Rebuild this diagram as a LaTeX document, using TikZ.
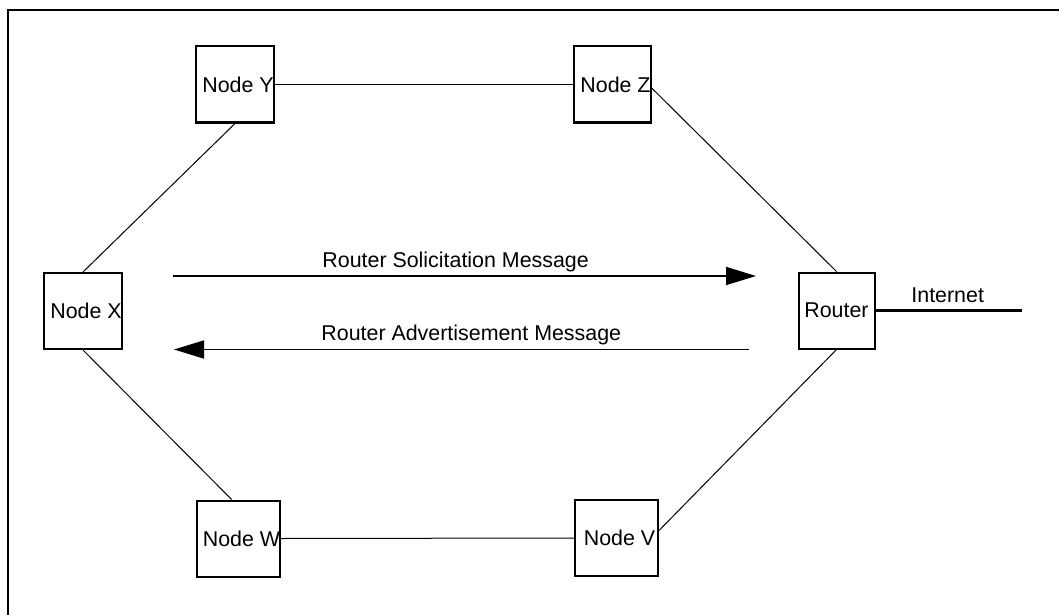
\documentclass[tikz,border=0pt]{standalone}
\usepackage{fontspec}
\setmainfont{Liberation Sans}
\usetikzlibrary{arrows.meta,calc}

\begin{document}
\begin{tikzpicture}[x=0.5pt,y=-0.5pt,
  font=\fontsize{10.7pt}{12.5pt}\selectfont,
  hostbox/.style={draw,line width=1pt,minimum width=38pt,minimum height=38pt,inner sep=0pt},
  widebox/.style={hostbox,minimum width=41.5pt},
  link/.style={line width=0.5pt},
  uplink/.style={line width=1.5pt},
  frameline/.style={line width=1pt},
  msg/.style={line width=0.85pt,-{Triangle[length=15pt,width=9pt]}},
  lbl/.style={anchor=base west,inner sep=0pt}]

  \useasboundingbox (0,0) rectangle (1059,615);

  % outer frame (top and left edges)
  \coordinate (fbl) at (8,616);
  \coordinate (ftl) at (8,10);
  \coordinate (ftr) at (1060,10);
  \draw[frameline] (fbl) -- (ftl) -- (ftr);

  % hosts and router
  \node[hostbox] (Y) at (235,84.5) {\hspace{3pt}Node Y};
  \node[hostbox] (Z) at (612.5,84.5) {\hspace{3pt}Node Z};
  \node[hostbox] (X) at (83,311) {\hspace{3pt}Node X};
  \node[hostbox] (R) at (836.5,310.5) {Router};
  \node[widebox] (W) at (238.5,538.5) {\hspace{3pt}Node W};
  \node[widebox] (V) at (616.5,538) {\hspace{3pt}Node V};

  % ring links
  \draw[link] (Y.east) -- (Z.west);
  \draw[link] (Y.south) -- (X.north);
  \draw[link] (Z.-5) -- (R.north);
  \draw[link] (R.south) -- (V.10);
  \draw[link] (X.south) -- (W.100);
  \draw[link] (W.east) -- (V.west);

  % uplink to the Internet
  \coordinate (inet) at (1022,310.5);
  \draw[uplink] (R.east) -- (inet);
  \node[lbl] (inetlbl) at (911,302) {Internet};

  % neighbour discovery messages
  \coordinate (rsA) at (173,276);
  \coordinate (rsB) at (756,276);
  \draw[msg] (rsA) -- (rsB);
  \node[lbl] (rslbl) at (322,267) {Router Solicitation Message};

  \coordinate (raA) at (749,349.5);
  \coordinate (raB) at (174,349.5);
  \draw[msg] (raA) -- (raB);
  \node[lbl] (ralbl) at (321,340) {Router Advertisement Message};
\end{tikzpicture}
\end{document}
